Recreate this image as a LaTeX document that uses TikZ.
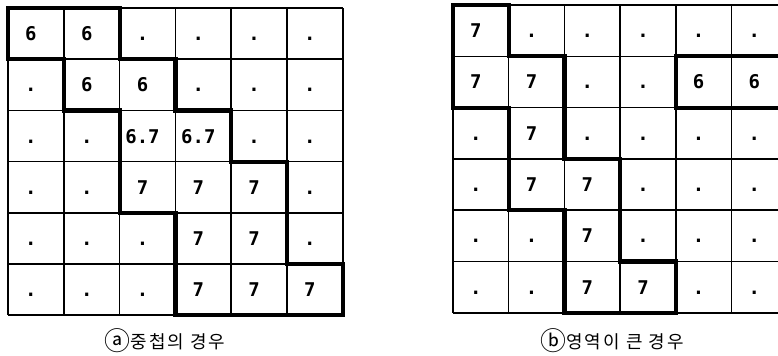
\documentclass[tikz,border=0pt]{standalone}
\usepackage{fontspec}
\newfontfamily\cellfont{DejaVu Sans Mono}
\newfontfamily\capfont{Noto Sans CJK KR}
\newcommand\capmark[1]{\raisebox{-2.5bp}{\fontsize{26}{26}\selectfont #1}}

\begin{document}
\begin{tikzpicture}[x=1bp, y=-1bp,
    gridline/.style={line width=1.5bp},
    bound/.style={line width=4.2bp, line join=miter},
    cell/.style={anchor=base, inner sep=0pt, xshift=-5bp, yshift=-7bp, font=\cellfont\bfseries\fontsize{19}{21}\selectfont},
    caption/.style={inner sep=0pt, font=\capfont\fontsize{18}{20}\selectfont\addfontfeature{LetterSpace=12}}
]
\useasboundingbox (0,0) rectangle (778,355);

% (a) overlapping regions
\begin{scope}[shift={(8,8)}, x=55.8bp, y=-51.2bp]
\foreach \i in {0,...,6} {
  \draw[gridline] (\i,0) -- (\i,6);
  \draw[gridline] (0,\i) -- (6,\i);
}
\draw[bound] (0,0) -- (2,0) -- (2,1) -- (3,1) -- (3,2) -- (4,2) -- (4,3) -- (5,3) -- (5,5) -- (6,5) -- (6,6)
  -- (3,6) -- (3,4) -- (2,4) -- (2,2) -- (1,2) -- (1,1) -- (0,1) -- cycle;
\foreach \row [count=\r] in {{6,6,.,.,.,.},{.,6,6,.,.,.},{.,.,6.7,6.7,.,.},{.,.,7,7,7,.},{.,.,.,7,7,.},{.,.,.,7,7,7}}
  \foreach \v [count=\c] in \row
    \node[cell] (a-\r-\c) at (\c-0.5,\r-0.5) {\v};
\end{scope}

% (b) large region
\begin{scope}[shift={(453,5)}, x=55.7bp, y=-51.3bp]
\foreach \i in {0,...,6} {
  \draw[gridline] (\i,0) -- (\i,6);
  \draw[gridline] (0,\i) -- (6,\i);
}
\draw[bound] (0,0) -- (1,0) -- (1,1) -- (2,1) -- (2,3) -- (3,3) -- (3,5) -- (4,5) -- (4,6)
  -- (2,6) -- (2,4) -- (1,4) -- (1,2) -- (0,2) -- cycle;
\draw[bound] (6,1) -- (4,1) -- (4,2) -- (6,2);
\foreach \row [count=\r] in {{7,.,.,.,.,.},{7,7,.,.,6,6},{.,7,.,.,.,.},{.,7,7,.,.,.},{.,.,7,.,.,.},{.,.,7,7,.,.}}
  \foreach \v [count=\c] in \row
    \node[cell] (b-\r-\c) at (\c-0.5,\r-0.5) {\v};
\end{scope}

\node[caption] (capa) at (165,341) {\capmark{ⓐ}중첩의 경우};
\node[caption] (capb) at (612,341) {\capmark{ⓑ}영역이 큰 경우};
\end{tikzpicture}
\end{document}
